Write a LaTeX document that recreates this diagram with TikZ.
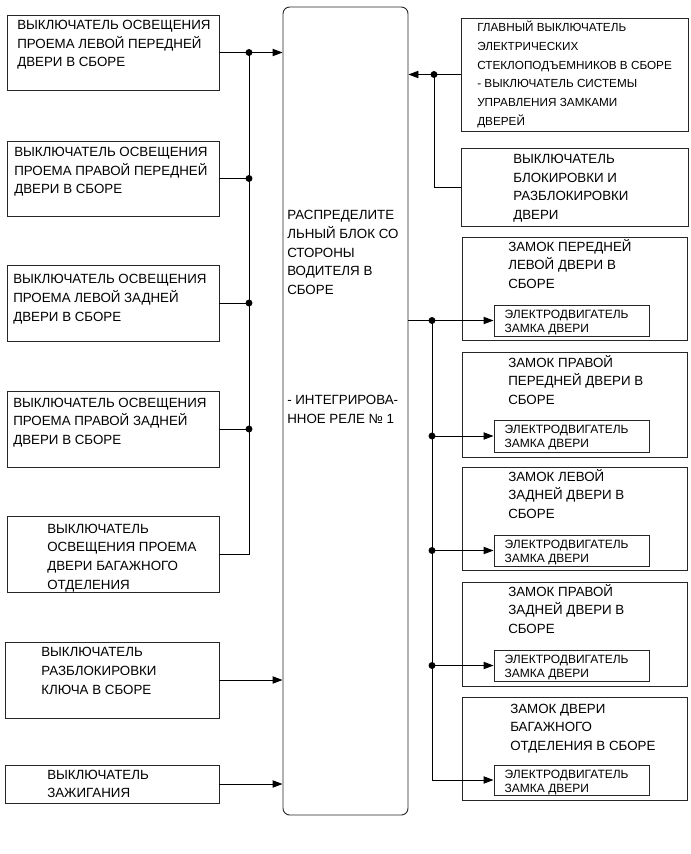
\documentclass[tikz,border=0pt]{standalone}
\usepackage{fontspec}
\setmainfont{Liberation Sans}
\usetikzlibrary{arrows.meta,fit}

\begin{document}
\begin{tikzpicture}[
  x=0.75pt, y=-0.75pt,
  box/.style={draw=black!85,line width=0.7pt,inner sep=0pt},
  txt/.style={anchor=base west,align=left,inner sep=0pt,
              font=\fontsize{10}{14}\selectfont},
  mtxt/.style={txt,font=\fontsize{9}{10.5}\selectfont},
  wire/.style={line width=0.7pt},
  arr/.style={-{Triangle[length=7.5pt,width=5.5pt]},line width=0.7pt},
  jdot/.style={fill=black}
]
  \useasboundingbox[fill=white] (0,0) rectangle (691,854);

  % switches on the left
  \node[box,fit={(7,15) (219,90)}] (l1) {};
  \node[box,fit={(7,141) (219,216)}] (l2) {};
  \node[box,fit={(7,265) (219,341)}] (l3) {};
  \node[box,fit={(7,391) (219,467)}] (l4) {};
  \node[box,fit={(7,516) (219,592)}] (l5) {};
  \node[box,fit={(5,642) (219,718)}] (l6) {};
  \node[box,fit={(5,765) (219,803)}] (l7) {};
  % (text nodes sit on the baseline of their last line)
  \node[txt] (l1t) at (17,66.9) {ВЫКЛЮЧАТЕЛЬ ОСВЕЩЕНИЯ\\ПРОЕМА ЛЕВОЙ ПЕРЕДНЕЙ\\ДВЕРИ В СБОРЕ};
  \node[txt] (l2t) at (14,193.9) {ВЫКЛЮЧАТЕЛЬ ОСВЕЩЕНИЯ\\ПРОЕМА ПРАВОЙ ПЕРЕДНЕЙ\\ДВЕРИ В СБОРЕ};
  \node[txt] (l3t) at (13,321) {ВЫКЛЮЧАТЕЛЬ ОСВЕЩЕНИЯ\\ПРОЕМА ЛЕВОЙ ЗАДНЕЙ\\ДВЕРИ В СБОРЕ};
  \node[txt] (l4t) at (13,444.5) {ВЫКЛЮЧАТЕЛЬ ОСВЕЩЕНИЯ\\ПРОЕМА ПРАВОЙ ЗАДНЕЙ\\ДВЕРИ В СБОРЕ};
  \node[txt] (l5t) at (47,589) {ВЫКЛЮЧАТЕЛЬ\\ОСВЕЩЕНИЯ ПРОЕМА\\ДВЕРИ БАГАЖНОГО\\ОТДЕЛЕНИЯ};
  \node[txt] (l6t) at (41,694) {ВЫКЛЮЧАТЕЛЬ\\РАЗБЛОКИРОВКИ\\КЛЮЧА В СБОРЕ};
  \node[txt] (l7t) at (47,797.8) {ВЫКЛЮЧАТЕЛЬ\\ЗАЖИГАНИЯ};

  % junction block
  \node[box,rounded corners=5pt,fit={(283,7) (408,815)}] (ecu) {};
  \node[txt] (ecut) at (287,294.6) {РАСПРЕДЕЛИТЕ\\ЛЬНЫЙ БЛОК СО\\СТОРОНЫ\\ВОДИТЕЛЯ В\\СБОРЕ};
  \node[txt] (relay) at (287,423.6) {- ИНТЕГРИРОВА-\\ННОЕ РЕЛЕ № 1};

  % switches on the right
  \node[box,fit={(461,18) (688,131)}] (main) {};
  \node[txt,font=\fontsize{8.8}{14}\selectfont] (maint) at (477,125)
    {ГЛАВНЫЙ ВЫКЛЮЧАТЕЛЬ\\ЭЛЕКТРИЧЕСКИХ\\СТЕКЛОПОДЪЕМНИКОВ В СБОРЕ\\- ВЫКЛЮЧАТЕЛЬ СИСТЕМЫ\\УПРАВЛЕНИЯ ЗАМКАМИ\\ДВЕРЕЙ};
  \node[box,fit={(461,148) (688,226)}] (lock) {};
  \node[txt] (lockt) at (513,219.6) {ВЫКЛЮЧАТЕЛЬ\\БЛОКИРОВКИ И\\РАЗБЛОКИРОВКИ\\ДВЕРИ};

  % door locks
  \node[box,fit={(462,237) (687,340)}] (k1) {};
  \node[box,fit={(462,352) (687,457)}] (k2) {};
  \node[box,fit={(462,467) (687,570)}] (k3) {};
  \node[box,fit={(462,582) (687,686)}] (k4) {};
  \node[box,fit={(462,697) (687,800)}] (k5) {};
  \node[txt] (k1t) at (508,288.6) {ЗАМОК ПЕРЕДНЕЙ\\ЛЕВОЙ ДВЕРИ В\\СБОРЕ};
  \node[txt] (k2t) at (508,404.6) {ЗАМОК ПРАВОЙ\\ПЕРЕДНЕЙ ДВЕРИ В\\СБОРЕ};
  \node[txt] (k3t) at (508,518.6) {ЗАМОК ЛЕВОЙ\\ЗАДНЕЙ ДВЕРИ В\\СБОРЕ};
  \node[txt] (k4t) at (508,633.6) {ЗАМОК ПРАВОЙ\\ЗАДНЕЙ ДВЕРИ В\\СБОРЕ};
  \node[txt] (k5t) at (510,750.6) {ЗАМОК ДВЕРИ\\БАГАЖНОГО\\ОТДЕЛЕНИЯ В СБОРЕ};
  \node[box,fit={(494,305) (649,336)}] (m1) {};
  \node[box,fit={(494,420) (649,452)}] (m2) {};
  \node[box,fit={(494,535) (649,566)}] (m3) {};
  \node[box,fit={(494,650) (649,681)}] (m4) {};
  \node[box,fit={(494,765) (649,795)}] (m5) {};
  \foreach \m in {m1,m2,m3,m4,m5}
    \node[mtxt] (\m t) at ([xshift=8.2pt,yshift=-21pt]\m.north west) {ЭЛЕКТРОДВИГАТЕЛЬ\\ЗАМКА ДВЕРИ};

  \coordinate (busL) at (249,0);
  \coordinate (busS) at (434,0);
  \coordinate (busR) at (432,0);

  % left side wiring
  \draw[arr] (l1.east) -- (l1.east -| ecu.west);
  \draw[wire] (l1.east -| busL) |- (l5.east);
  \foreach \l in {l2,l3,l4}
    \draw[wire] (\l.east) -- (\l.east -| busL);
  \foreach \l in {l1,l2,l3,l4}
    \fill[jdot] (\l.east -| busL) circle (2.6pt);
  \draw[arr] (l6.east) -- (l6.east -| ecu.west);
  \draw[arr] (l7.east) -- (l7.east -| ecu.west);

  % right side wiring
  \draw[arr] (main.west) -- (main.west -| ecu.east);
  \draw[wire] (main.west -| busS) |- (lock.west);
  \fill[jdot] (main.west -| busS) circle (2.6pt);
  \draw[arr] (m1.west -| ecu.east) -- (m1.west);
  \draw[arr] (m1.west -| busR) |- (m5.west);
  \foreach \m in {m2,m3,m4}
    \draw[arr] (\m.west -| busR) -- (\m.west);
  \foreach \m in {m1,m2,m3,m4}
    \fill[jdot] (\m.west -| busR) circle (2.6pt);
\end{tikzpicture}
\end{document}
